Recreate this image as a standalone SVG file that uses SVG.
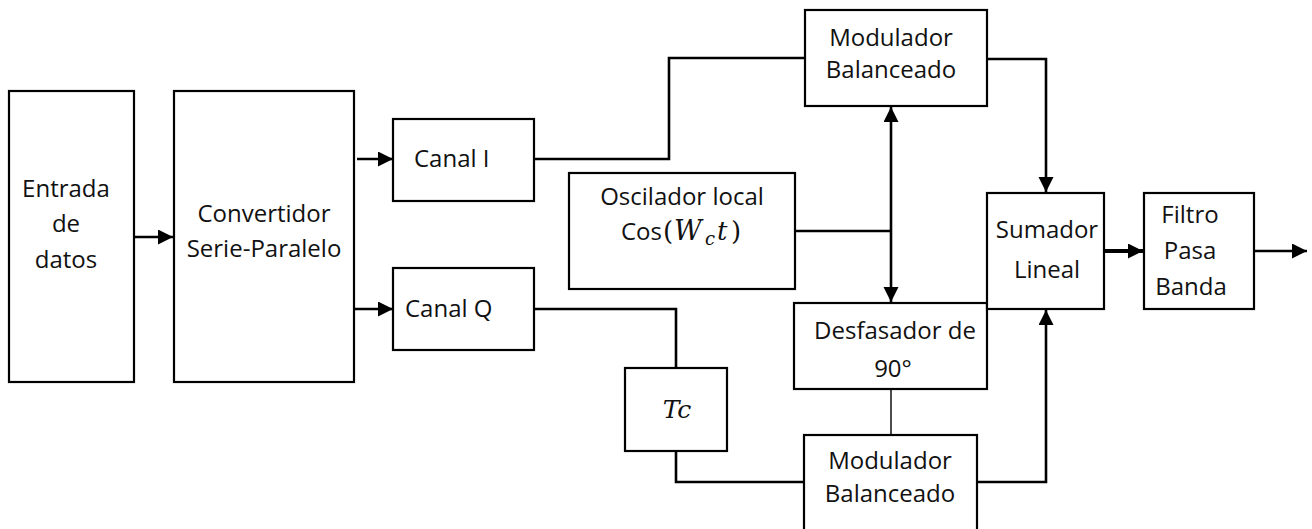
<svg xmlns="http://www.w3.org/2000/svg" width="1312" height="529" viewBox="0 0 1312 529">
  <style>
    .box { fill: #ffffff; stroke: #000000; stroke-width: 2.2; }
    .wire { fill: none; stroke: #000000; stroke-width: 2.6; }
    .thin { fill: none; stroke: #000000; stroke-width: 1.4; }
    .thick { fill: none; stroke: #000000; stroke-width: 4; }
    .lbl { font-family: "Open Sans", "Liberation Sans", sans-serif; font-size: 24px; fill: #111111; text-anchor: middle; }
    .math { font-family: "DejaVu Serif", "Liberation Serif", serif; font-style: italic; fill: #111111; }
  </style>
  <defs>
    <marker id="arrow" markerUnits="userSpaceOnUse" markerWidth="16" markerHeight="16" refX="15" refY="7.5" orient="auto">
      <path d="M0,0 L15,7.5 L0,15 Z" fill="#000000"/>
    </marker>
  </defs>

  <rect width="1312" height="529" fill="#ffffff"/>

  <!-- connectors -->
  <g id="connectors">
    <line class="wire" x1="134" y1="237" x2="173" y2="237" marker-end="url(#arrow)"/>
    <line class="wire" x1="357" y1="159" x2="393" y2="159" marker-end="url(#arrow)"/>
    <line class="wire" x1="355" y1="309" x2="393" y2="309" marker-end="url(#arrow)"/>
    <!-- Canal I to upper modulator -->
    <polyline class="wire" points="534,159 669,159 669,58 805,58"/>
    <!-- Canal Q through delay to lower modulator -->
    <polyline class="wire" points="534,309 676,309 676,368"/>
    <polyline class="wire" points="676,451 676,482 804,482"/>
    <!-- local oscillator distribution -->
    <line class="wire" x1="795" y1="231" x2="891" y2="231"/>
    <line class="wire" x1="891" y1="231" x2="891" y2="107" marker-end="url(#arrow)"/>
    <line class="wire" x1="891" y1="231" x2="891" y2="302" marker-end="url(#arrow)"/>
    <!-- phase shifter to lower modulator -->
    <line class="thin" x1="891" y1="389" x2="891" y2="435"/>
    <!-- modulators to adder -->
    <polyline class="wire" points="987,59 1046,59 1046,192" marker-end="url(#arrow)"/>
    <polyline class="wire" points="977,482 1046,482 1046,310" marker-end="url(#arrow)"/>
    <!-- adder to filter, filter output -->
    <line class="thick" x1="1104" y1="251" x2="1143" y2="251" marker-end="url(#arrow)"/>
    <line class="wire" x1="1254" y1="251" x2="1307" y2="251" marker-end="url(#arrow)"/>
  </g>

  <g id="entrada">
    <rect class="box" x="9" y="91" width="125" height="291"/>
    <text class="lbl" x="66" y="197">Entrada</text>
    <text class="lbl" x="66" y="232">de</text>
    <text class="lbl" x="66" y="268">datos</text>
  </g>

  <g id="convertidor">
    <rect class="box" x="174" y="91" width="180" height="291"/>
    <text class="lbl" x="264" y="222">Convertidor</text>
    <text class="lbl" x="264" y="257">Serie-Paralelo</text>
  </g>

  <g id="canal-i">
    <rect class="box" x="393" y="119" width="141" height="82"/>
    <text class="lbl" x="414" y="167" style="text-anchor:start">Canal I</text>
  </g>

  <g id="canal-q">
    <rect class="box" x="393" y="268" width="141" height="82"/>
    <text class="lbl" x="405" y="317" style="text-anchor:start">Canal Q</text>
  </g>

  <g id="oscilador">
    <rect class="box" x="569" y="173" width="226" height="116"/>
    <text class="lbl" x="682" y="205">Oscilador local</text>
    <text x="621" y="240" style="font-family:'Open Sans','Liberation Sans',sans-serif;font-size:24px;fill:#111111">Cos</text>
    <text class="math" x="663" y="240" style="font-style:normal;font-size:26px">(</text>
    <text class="math" x="674" y="240" style="font-size:27px">W</text>
    <text class="math" x="705" y="245" style="font-size:18px">c</text>
    <text class="math" x="717" y="240" style="font-size:26px">t</text>
    <text class="math" x="731" y="240" style="font-style:normal;font-size:26px">)</text>
  </g>

  <g id="modulador-sup">
    <rect class="box" x="805" y="10" width="182" height="96"/>
    <text class="lbl" x="891" y="46">Modulador</text>
    <text class="lbl" x="891" y="78">Balanceado</text>
  </g>

  <g id="desfasador">
    <rect class="box" x="794" y="303" width="193" height="86"/>
    <text class="lbl" x="895" y="339">Desfasador de</text>
    <text class="lbl" x="893" y="377">90°</text>
  </g>

  <g id="retardo">
    <rect class="box" x="625" y="368" width="102" height="83"/>
    <text class="math" x="677" y="418" style="font-size:25px;text-anchor:middle">Tc</text>
  </g>

  <g id="modulador-inf">
    <rect class="box" x="804" y="435" width="173" height="110"/>
    <text class="lbl" x="890" y="469">Modulador</text>
    <text class="lbl" x="890" y="502">Balanceado</text>
  </g>

  <g id="sumador">
    <rect class="box" x="987" y="193" width="117" height="116"/>
    <text class="lbl" x="1047" y="238">Sumador</text>
    <text class="lbl" x="1047" y="278">Lineal</text>
  </g>

  <g id="filtro">
    <rect class="box" x="1144" y="193" width="110" height="116"/>
    <text class="lbl" x="1190" y="223">Filtro</text>
    <text class="lbl" x="1190" y="259">Pasa</text>
    <text class="lbl" x="1191" y="295">Banda</text>
  </g>
</svg>
